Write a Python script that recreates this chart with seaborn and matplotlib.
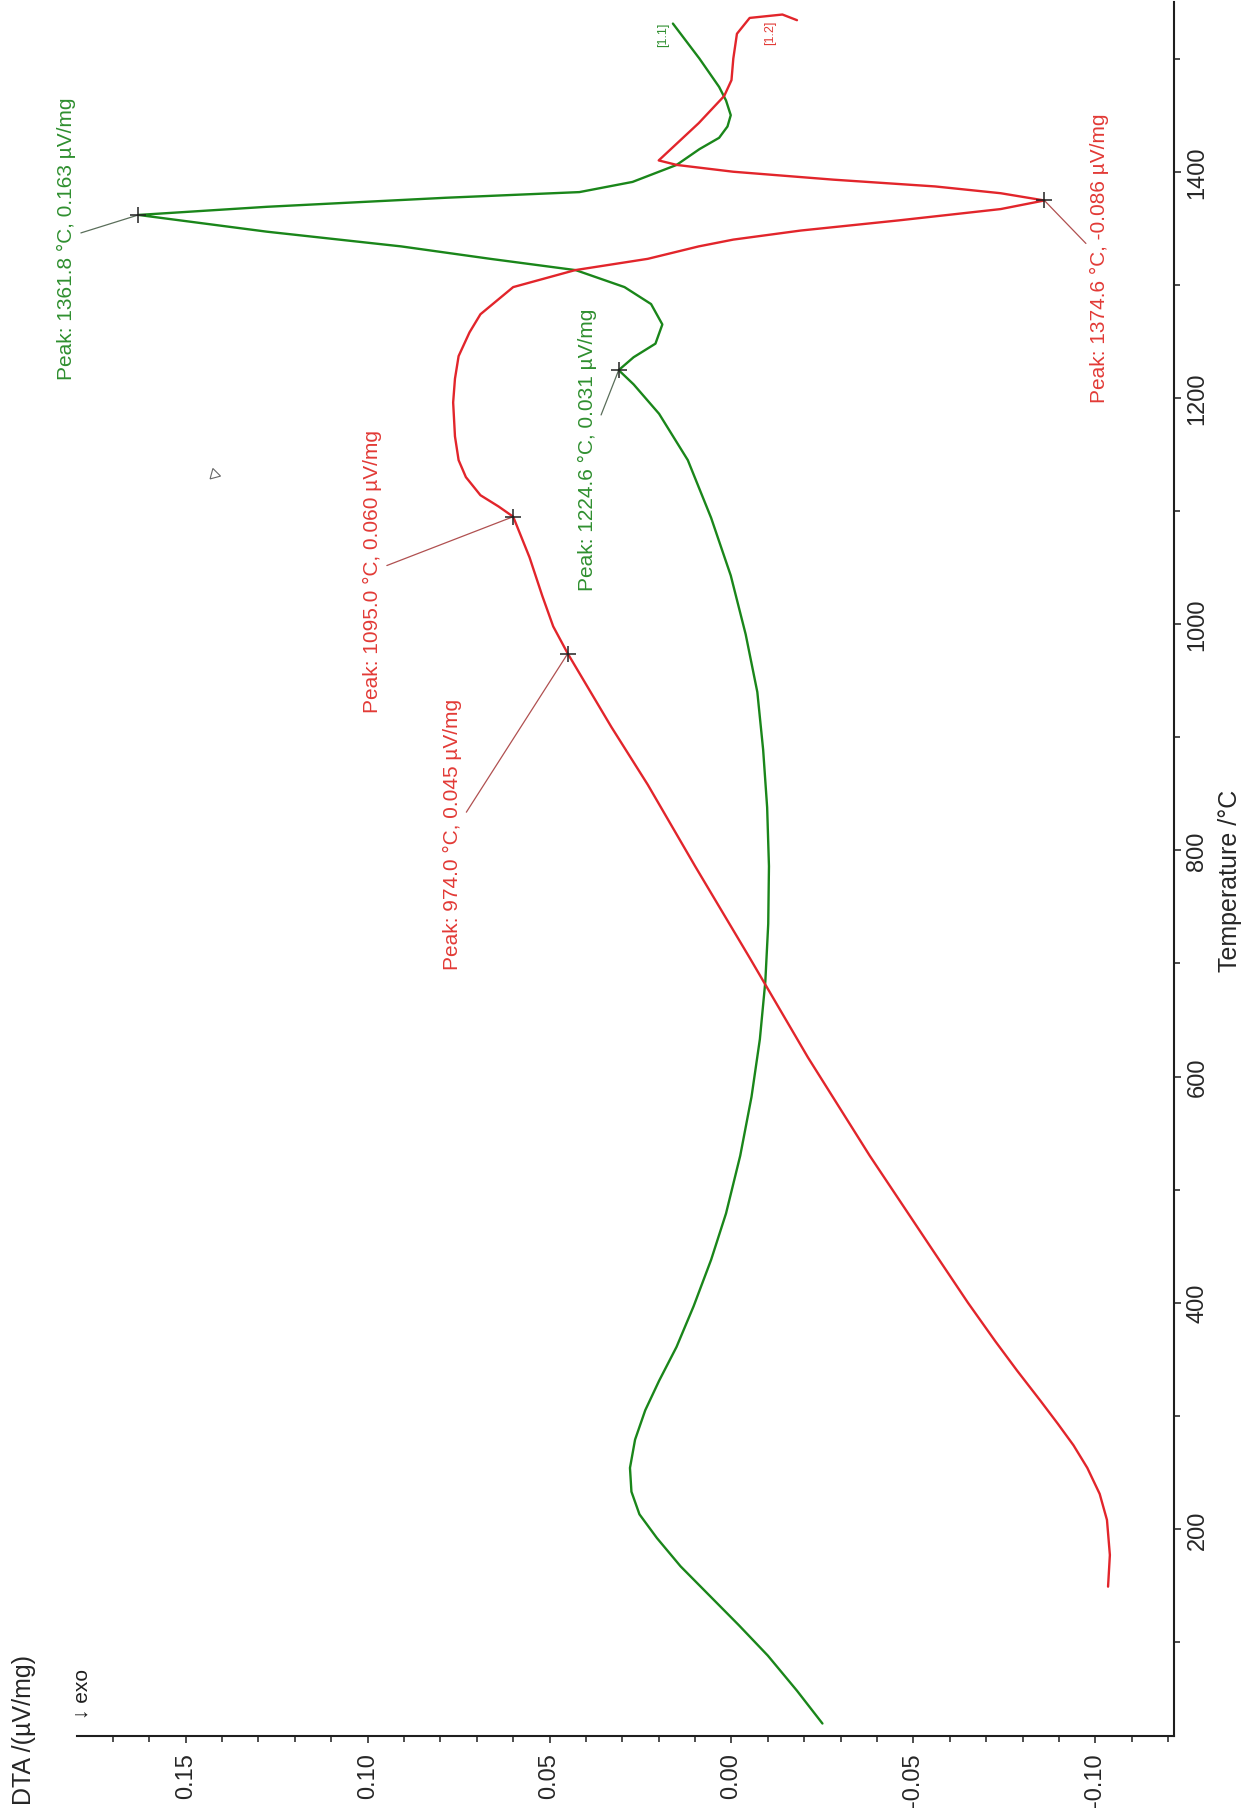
import matplotlib
matplotlib.use("Agg")
import matplotlib.pyplot as plt
from matplotlib.ticker import MultipleLocator, FormatStrFormatter
import pandas as pd
import seaborn as sns

# run [1.1] (green): temperature /°C and DTA /(µV/mg)
temp_11 = [28, 57, 88, 115, 141, 167, 192, 213, 233, 254, 279, 305, 331, 361,
           397, 438, 479, 530, 582, 633, 684, 735, 786, 838, 889, 940, 991,
           1043, 1094, 1145, 1186, 1212, 1224.6, 1236, 1248, 1265, 1283, 1298,
           1313, 1323, 1334, 1347, 1361.8, 1369, 1377, 1382, 1391, 1406, 1420,
           1430, 1440, 1450, 1463, 1475, 1500, 1531]
dta_11 = [-0.025, -0.018, -0.010, -0.002, 0.006, 0.014, 0.0205, 0.0253, 0.0275,
          0.0279, 0.0265, 0.0237, 0.0199, 0.0151, 0.0104, 0.0056, 0.0015, -0.0024,
          -0.0055, -0.0078, -0.0093, -0.0101, -0.0103, -0.0098, -0.0087, -0.0071,
          -0.0039, 0.0002, 0.0056, 0.0120, 0.0199, 0.0269, 0.031, 0.0269, 0.0209,
          0.0190, 0.0221, 0.0294, 0.0428, 0.0663, 0.0908, 0.1277, 0.163, 0.1277,
          0.0785, 0.0418, 0.0272, 0.0151, 0.0088, 0.0034, 0.0011, 0.0002, 0.0015,
          0.0034, 0.0088, 0.0161]

# run [1.2] (red)
temp_12 = [149, 177, 208, 231, 254, 274, 293, 313, 340, 366, 400, 448, 530, 617,
           705, 786, 858, 909, 974.0, 998, 1025, 1059, 1095.0, 1104, 1114, 1130,
           1145, 1166, 1196, 1217, 1237, 1258, 1274, 1298, 1313, 1323, 1334,
           1340, 1348, 1357, 1367, 1374.6, 1381, 1387, 1393, 1400, 1406, 1410,
           1425, 1443, 1467, 1481, 1500, 1522, 1536, 1539, 1534]
dta_12 = [-0.1035, -0.104, -0.1032, -0.1012, -0.0978, -0.0940, -0.0897, -0.0850,
          -0.0785, -0.0725, -0.065, -0.055, -0.038, -0.021, -0.005, 0.010, 0.023,
          0.033, 0.045, 0.049, 0.052, 0.0555, 0.060, 0.064, 0.069, 0.073, 0.075,
          0.076, 0.0765, 0.076, 0.075, 0.072, 0.069, 0.060, 0.043, 0.023, 0.009,
          -0.0005, -0.019, -0.046, -0.074, -0.086, -0.074, -0.056, -0.028,
          -0.0005, 0.015, 0.020, 0.015, 0.009, 0.002, 0.000, -0.0005, -0.0015,
          -0.005, -0.014, -0.018]

# peaks picked by the software
peak_temp_11 = [1361.8, 1224.6]
peak_dta_11 = [0.163, 0.031]
peak_temp_12 = [1374.6, 1095.0, 974.0]
peak_dta_12 = [-0.086, 0.060, 0.045]

# where the peak labels sit (dta, temp)
label_pos_11 = [(0.1827, 1342), (0.0395, 1155)]
label_pos_12 = [(-0.1012, 1324), (0.0986, 1047), (0.0766, 815)]

GREEN = "#1a861a"
RED = "#e2252b"
GREEN_TXT = "#2f8f2f"
RED_TXT = "#e23a36"
INK = "#1e1e1e"

sns.set_theme(style="white")
plt.rcParams["font.family"] = ["Liberation Sans", "DejaVu Sans"]
plt.rcParams["axes.unicode_minus"] = False

df = pd.concat([
    pd.DataFrame({"run": "1.1", "temp": temp_11, "dta": dta_11}),
    pd.DataFrame({"run": "1.2", "temp": temp_12, "dta": dta_12}),
], ignore_index=True)

fig = plt.figure(figsize=(12.45, 18.15), dpi=100)
ax = fig.add_axes([0.0618, 0.043, 0.8811, 0.9553])

sns.lineplot(data=df, x="dta", y="temp", hue="run", palette={"1.1": GREEN, "1.2": RED},
             sort=False, estimator=None, linewidth=1.7, legend=False, ax=ax)

ax.set_xlim(0.1799, -0.1216)
ax.set_ylim(17, 1550)

for side in ["top", "left"]:
    ax.spines[side].set_visible(False)
for side in ["bottom", "right"]:
    ax.spines[side].set_color(INK)
    ax.spines[side].set_linewidth(1.5)

ax.yaxis.tick_right()
ax.yaxis.set_label_position("right")
ax.xaxis.set_major_locator(MultipleLocator(0.05))
ax.xaxis.set_minor_locator(MultipleLocator(0.01))
ax.xaxis.set_major_formatter(FormatStrFormatter("%.2f"))
ax.yaxis.set_major_locator(MultipleLocator(200))
ax.yaxis.set_minor_locator(MultipleLocator(100))

ax.tick_params(which="both", direction="out", color=INK, width=1.1)
ax.tick_params(which="major", length=5)
ax.tick_params(which="minor", length=4)
ax.tick_params(axis="x", which="both", bottom=True, labelrotation=90, labelsize=17, pad=7)
ax.tick_params(axis="y", which="both", right=True, left=False, labelrotation=90, labelsize=17, pad=4)
for lab in ax.get_yticklabels():
    lab.set_va("center")

ax.set_ylabel("Temperature /°C", fontsize=18, rotation=90, va="center", ha="center")
ax.yaxis.set_label_coords(1.051, 0.494)
ax.set_xlabel("DTA /(µV/mg)", fontsize=18, rotation=90, va="center", ha="center")
ax.xaxis.set_label_coords(-0.048, 0.004)
ax.text(0.0046, 0.0245, "↓ exo", transform=ax.transAxes, rotation=90,
        ha="center", va="center", fontsize=15, color=INK)

# peak markers and labels
ax.plot(peak_dta_11 + peak_dta_12, peak_temp_11 + peak_temp_12, "+",
        color="#222222", ms=11, mew=1.1, zorder=5)
for t, d, pos in zip(peak_temp_11, peak_dta_11, label_pos_11):
    ax.annotate(f"Peak: {t:.1f} °C, {d:.3f} µV/mg", xy=(d, t), xytext=pos,
                rotation=90, ha="center", va="center", fontsize=15,
                color=GREEN_TXT, annotation_clip=False,
                arrowprops=dict(arrowstyle="-", color="#5a6e5a", lw=0.9,
                                shrinkA=1, shrinkB=0))
for t, d, pos in zip(peak_temp_12, peak_dta_12, label_pos_12):
    ax.annotate(f"Peak: {t:.1f} °C, {d:.3f} µV/mg", xy=(d, t), xytext=pos,
                rotation=90, ha="center", va="center", fontsize=15,
                color=RED_TXT, annotation_clip=False,
                arrowprops=dict(arrowstyle="-", color="#b05050", lw=0.9,
                                shrinkA=1, shrinkB=0))

# curve tags at the end of each run
ax.text(0.0189, 1522, "[1.1]", rotation=90, ha="center", va="center",
        fontsize=9, color=GREEN_TXT)
ax.text(-0.0105, 1524, "[1.2]", rotation=90, ha="center", va="center",
        fontsize=9, color=RED_TXT)

# stray mouse pointer left in the exported screenshot
ax.plot([0.1423], [1133], marker=(3, 0, 15), ms=9, mfc="none", mec="#666666", mew=0.8)

fig.savefig("out.png", dpi=100)
plt.close(fig)
